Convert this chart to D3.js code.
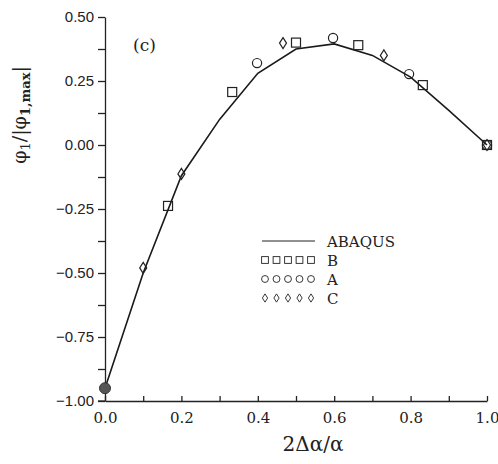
<!DOCTYPE html>
<html>
<head>
<meta charset="utf-8">
<script src="https://cdn.jsdelivr.net/npm/d3@7"></script>
<style>
  body { margin: 0; background: #fff; }
  .ytick text { font-family: "Liberation Sans", Arial, sans-serif; font-size: 15px; fill: #222; }
  .xtick text { font-family: "DejaVu Serif", "Liberation Serif", serif; font-size: 15px; fill: #222; }
  .serif { font-family: "DejaVu Serif", "Liberation Serif", serif; fill: #222; }
</style>
</head>
<body>
<div id="chart"></div>
<script>
const height = 464,
    width = 498,
    margin = ({ top: 17, right: 11, bottom: 63, left: 105 });

// ABAQUS curve
const abaqusX = [0.0, 0.1, 0.2, 0.3, 0.4, 0.5, 0.6, 0.7, 0.8, 0.9, 1.0];
const abaqusY = [-0.95, -0.50, -0.12, 0.10, 0.28, 0.375, 0.395, 0.35, 0.265, 0.135, 0.0];

// markers
const bX = [0.165, 0.333, 0.50, 0.663, 0.832, 1.0];
const bY = [-0.238, 0.207, 0.40, 0.39, 0.234, 0.0];
const aX = [0.398, 0.597, 0.796, 1.0];
const aY = [0.32, 0.418, 0.277, 0.0];
const cX = [0.10, 0.20, 0.466, 0.73, 1.0];
const cY = [-0.48, -0.113, 0.398, 0.35, 0.0];

const yTicks = [0.50, 0.25, 0.00, -0.25, -0.50, -0.75, -1.00];
const xTicks = [0.0, 0.2, 0.4, 0.6, 0.8, 1.0];
const legendNames = ["ABAQUS", "B", "A", "C"];

const svg = d3.select("#chart")
    .append("svg")
    .attr("width", width)
    .attr("height", height);

let x = d3.scaleLinear()
    .domain([0, 1])
    .range([margin.left, width - margin.right]);

let y = d3.scaleLinear()
    .domain([-1, 0.5])
    .range([height - margin.bottom, margin.top]);

// y axis, ticks outward, minor every 0.125
svg.append("g")
  .attr("class", "ytick")
  .attr("transform", `translate(${margin.left},0)`)
  .call(d3.axisLeft(y).tickValues(d3.range(-1, 0.51, 0.125)).tickSize(7).tickSizeOuter(0)
    .tickFormat(d => yTicks.some(t => Math.abs(t - d) < 1e-6) ? d3.format(".2f")(d).replace("-", "\u2212") : ""))
  .call(g => g.selectAll("line,path").attr("stroke", "#222").attr("stroke-width", 1.3))
  .call(g => g.selectAll("text").attr("dx", "-1"));

// x axis, ticks inward
svg.append("g")
  .attr("class", "xtick")
  .attr("transform", `translate(0,${height - margin.bottom})`)
  .call(d3.axisBottom(x).tickValues(d3.range(0, 1.01, 0.1)).tickSize(-5).tickSizeOuter(0)
    .tickFormat(d => xTicks.some(t => Math.abs(t - d) < 1e-6) ? d3.format(".1f")(d) : ""))
  .call(g => g.selectAll("line,path").attr("stroke", "#222").attr("stroke-width", 1.3))
  .call(g => g.selectAll("text").attr("dy", "1.25em"));

// extend x axis slightly left past the y axis
svg.append("line")
  .attr("x1", margin.left - 7).attr("x2", margin.left)
  .attr("y1", y(-1)).attr("y2", y(-1))
  .attr("stroke", "#222").attr("stroke-width", 1.3);

// axis labels
svg.append("text")
  .attr("class", "serif")
  .attr("text-anchor", "middle")
  .attr("x", 313)
  .attr("y", 451)
  .attr("font-size", 20)
  .text("2\u0394\u03b1/\u03b1");

const yl = svg.append("text")
  .attr("class", "serif")
  .attr("text-anchor", "middle")
  .attr("transform", "translate(26,115) rotate(-90)")
  .attr("font-size", 19);
yl.append("tspan").text("\u03c6");
yl.append("tspan").attr("font-size", 13).attr("dy", 4).text("1");
yl.append("tspan").attr("dy", -4).text("/|\u03c6");
yl.append("tspan").attr("font-size", 13).attr("dy", 4).attr("font-weight", "bold").text("1,max");
yl.append("tspan").attr("dy", -4).text("|");

svg.append("text")
  .attr("class", "serif")
  .attr("x", 133)
  .attr("y", 51)
  .attr("font-size", 17)
  .text("(c)");

// ABAQUS line
let line = d3.line()
    .x(d => x(d[0]))
    .y(d => y(d[1]));

svg.append("path")
    .datum(d3.zip(abaqusX, abaqusY))
    .attr("d", line)
    .attr("fill", "none")
    .attr("stroke", "#1a1a1a")
    .attr("stroke-width", 1.6);

// marker drawing helpers
function square(g, cx, cy) {
  g.append("rect").attr("x", cx - 4.5).attr("y", cy - 4.5).attr("width", 9).attr("height", 9)
    .attr("fill", "none").attr("stroke", "#222").attr("stroke-width", 1.2);
}
function circle(g, cx, cy) {
  g.append("circle").attr("cx", cx).attr("cy", cy).attr("r", 4.6)
    .attr("fill", "none").attr("stroke", "#222").attr("stroke-width", 1.2);
}
function diamond(g, cx, cy) {
  g.append("path").attr("d", `M${cx},${cy - 5.5}L${cx + 3.5},${cy}L${cx},${cy + 5.5}L${cx - 3.5},${cy}Z`)
    .attr("fill", "none").attr("stroke", "#222").attr("stroke-width", 1.2);
}

const marks = svg.append("g");
bX.forEach((v, i) => square(marks, x(v), y(bY[i])));
aX.forEach((v, i) => circle(marks, x(v), y(aY[i])));
cX.forEach((v, i) => diamond(marks, x(v), y(cY[i])));

// filled marker at the start of the curve
marks.append("circle")
  .attr("cx", x(abaqusX[0])).attr("cy", y(abaqusY[0])).attr("r", 5.5)
  .attr("fill", "#555").attr("stroke", "#333");

// legend
const lg = svg.append("g");
const lx0 = 262, lx1 = 315, ly = [241, 260, 279, 298];
lg.append("line").attr("x1", lx0).attr("x2", lx1).attr("y1", ly[0]).attr("y2", ly[0])
  .attr("stroke", "#222").attr("stroke-width", 1.2);
const fns = [square, circle, diamond];
for (let r = 0; r < 3; r++) {
  for (let k = 0; k < 5; k++) {
    const g = lg.append("g").attr("transform", `translate(${lx0 + 3 + k * 11.5},${ly[r + 1]}) scale(0.75)`);
    fns[r](g, 0, 0);
  }
}
legendNames.forEach((n, i) => {
  lg.append("text")
    .attr("class", "serif")
    .attr("x", 327)
    .attr("y", ly[i] + 6)
    .attr("font-size", 15)
    .text(n);
});
</script>
</body>
</html>
